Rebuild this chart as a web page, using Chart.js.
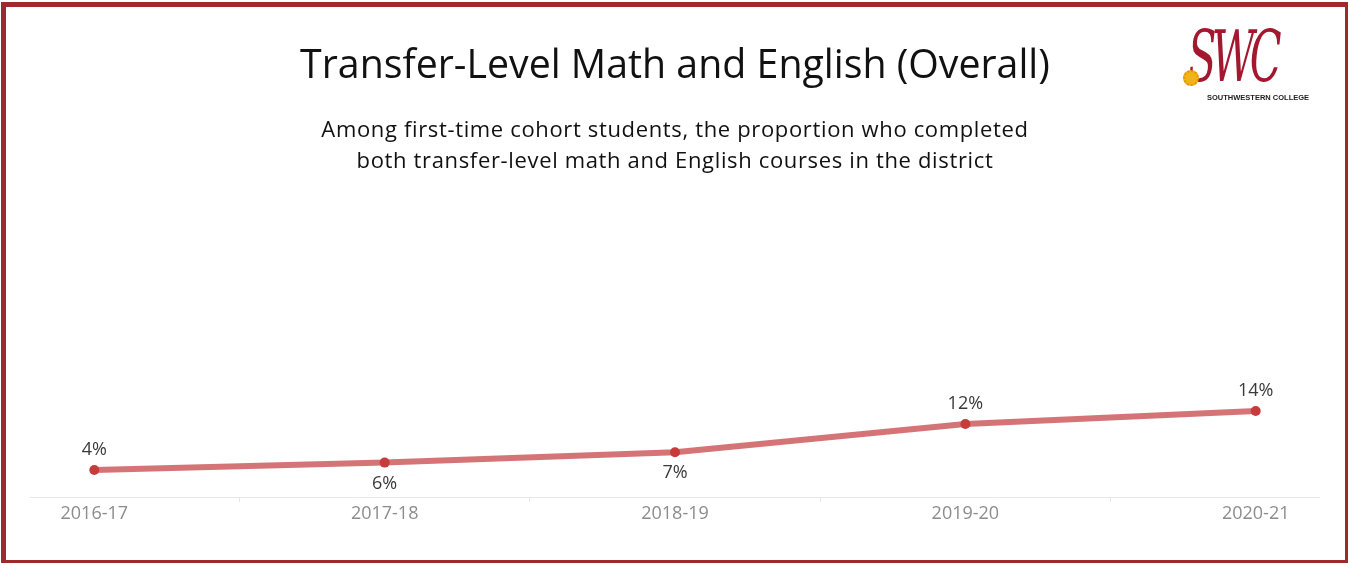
<!DOCTYPE html>
<html>
<head>
<meta charset="utf-8">
<script src="https://cdn.jsdelivr.net/npm/chart.js@4"></script>
<style>
  html, body { margin: 0; padding: 0; width: 1348px; height: 563px; overflow: hidden; background: #fff; }
  #frame { position: absolute; left: 1px; top: 2px; width: 1349px; height: 563px; box-sizing: border-box; border: 5px solid #9e2a2b; }
  #chartWrap { position: absolute; left: 0; top: 0; width: 1348px; height: 563px; }
  #title { position: absolute; left: 0; width: 1350px; top: 37px; text-align: center; font-family: "Open Sans", sans-serif; font-size: 39.3px; line-height: 53px; color: #111; white-space: nowrap; }
  #subtitle { position: absolute; left: 0; width: 1350px; top: 113px; text-align: center; font-family: "Open Sans", sans-serif; font-size: 22px; letter-spacing: 0.65px; line-height: 31px; color: #111; }
  #logo { position: absolute; left: 1176px; top: 26px; width: 140px; height: 80px; }
  #swc { position: absolute; left: 12px; top: -10px; font-family: "DejaVu Serif", serif; font-style: italic; font-size: 52px; color: #a3172f; letter-spacing: -6px; transform: scale(0.8, 1.35); transform-origin: left top; }
  #sun { position: absolute; left: 7px; top: 44px; width: 16px; height: 16px; border-radius: 50%; background: #f2b31a; border: 2px dotted #e39200; box-sizing: border-box; }
  #swcname { position: absolute; left: 31px; top: 67px; font-family: "Liberation Sans", sans-serif; font-weight: bold; font-size: 7.5px; color: #222; white-space: nowrap; }
</style>
</head>
<body>
<div id="chartWrap"><canvas id="c" width="1348" height="563"></canvas></div>
<div id="frame"></div>
<div id="title">Transfer-Level Math and English (Overall)</div>
<div id="subtitle">Among first-time cohort students, the proportion who completed<br>both transfer-level math and English courses in the district</div>
<div id="logo"><div id="swc">SWC</div><div id="sun"></div><div id="swcname">SOUTHWESTERN COLLEGE</div></div>
<script>
const categories = ["2016-17", "2017-18", "2018-19", "2019-20", "2020-21"];
const values = [4.4, 5.6, 7.3, 11.9, 14.0];
const valueLabels = ["4%", "6%", "7%", "12%", "14%"];
const labelSide = ["above", "below", "below", "above", "above"];

const dataLabelPlugin = {
  id: 'dataLabels',
  afterDatasetsDraw(chart) {
    const ctx = chart.ctx;
    const meta = chart.getDatasetMeta(0);
    ctx.save();
    ctx.font = '18px "Open Sans", sans-serif';
    ctx.fillStyle = '#3a3a3a';
    ctx.textAlign = 'center';
    ctx.textBaseline = 'middle';
    meta.data.forEach((pt, i) => {
      const dy = labelSide[i] === 'above' ? -20 : 21;
      ctx.fillText(valueLabels[i], pt.x, pt.y + dy);
    });
    ctx.restore();
  }
};

new Chart(document.getElementById('c'), {
  type: 'line',
  data: {
    datasets: [{
      data: values.map((v, i) => ({ x: i, y: v })),
      borderColor: 'rgba(205, 92, 95, 0.85)',
      borderWidth: 6,
      pointRadius: 5,
      pointBackgroundColor: '#c73b3d',
      pointBorderColor: '#c73b3d',
      pointBorderWidth: 0,
      tension: 0,
      clip: false
    }]
  },
  options: {
    responsive: false,
    animation: false,
    devicePixelRatio: 1,
    layout: { padding: { left: 30, right: 29, top: 190, bottom: 0 } },
    plugins: { legend: { display: false }, tooltip: { enabled: false } },
    scales: {
      x: {
        type: 'linear',
        min: -0.2215,
        max: 4.218,
        afterBuildTicks(scale) { scale.ticks = categories.map((c, i) => ({ value: i })); },
        afterFit(scale) { scale.height = 66; },
        ticks: {
          callback: (v) => categories[v],
          color: '#8c8c8c',
          font: { family: '"Open Sans", sans-serif', size: 18 },
          padding: 1,
          maxRotation: 0,
          autoSkip: false
        },
        grid: { offset: true, drawOnChartArea: false, drawTicks: true, tickLength: 5, color: '#e6e6e6' },
        border: { display: true, color: '#e8e8e8', width: 1 }
      },
      y: {
        display: false,
        min: 0,
        max: 50
      }
    }
  },
  plugins: [dataLabelPlugin]
});
</script>
</body>
</html>
